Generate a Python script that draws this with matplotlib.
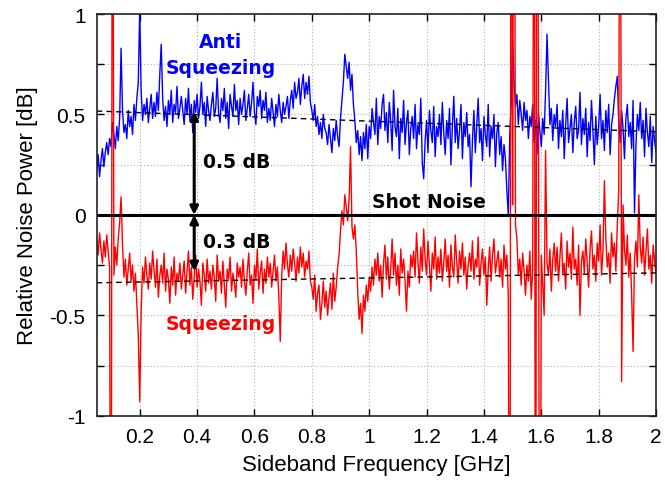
import matplotlib
matplotlib.use("Agg")
import matplotlib.pyplot as plt
import numpy as np


# measured noise power relative to shot noise [dB], sampled every 5 MHz from 0.05 to 2.0 GHz
anti = [
    # 0.05
    0.22, 0.30, 0.19, 0.27, 0.33, 0.24, 0.31, 0.36, 0.30, 0.38,
    0.34, 0.46, 0.40, 0.33, 0.44, 0.37, 0.48, 0.83, 0.52, 0.41,
    # 0.15
    0.45, 0.38, 0.52, 0.44, 0.49, 0.40, 0.55, 0.47, 0.58, 0.66,
    1.02, 0.62, 0.47, 0.55, 0.50, 0.58, 0.46, 0.53, 0.60, 0.48,
    # 0.25
    0.56, 0.49, 0.61, 0.52, 0.70, 0.85, 0.58, 0.47, 0.54, 0.44,
    0.57, 0.50, 0.62, 0.46, 0.55, 0.51, 0.64, 0.48, 0.53, 0.59,
    # 0.35
    0.52, 0.45, 0.58, 0.50, 0.63, 0.47, 0.55, 0.41, 0.57, 0.51,
    0.60, 0.48, 0.54, 0.66, 0.50, 0.56, 0.44, 0.59, 0.52, 0.47,
    # 0.45
    0.55, 0.61, 0.49, 0.53, 0.68, 0.51, 0.46, 0.58, 0.52, 0.63,
    0.48, 0.56, 0.43, 0.60, 0.54, 0.49, 0.65, 0.52, 0.57, 0.45,
    # 0.55
    0.58, 0.50, 0.55, 0.62, 0.47, 0.53, 0.60, 0.49, 0.56, 0.66,
    0.51, 0.45, 0.59, 0.54, 0.62, 0.48, 0.57, 0.52, 0.61, 0.46,
    # 0.65
    0.53, 0.47, 0.58, 0.51, 0.44, 0.55, 0.49, 0.60, 0.52, 0.46,
    0.56, 0.50, 0.54, 0.59, 0.48, 0.57, 0.62, 0.53, 0.66, 0.58,
    # 0.75
    0.61, 0.68, 0.55, 0.64, 0.70, 0.58, 0.66, 0.60, 0.69, 0.56,
    0.52, 0.47, 0.55, 0.44, 0.49, 0.40, 0.46, 0.38, 0.50, 0.43,
    # 0.85
    0.41, 0.35, 0.45, 0.38, 0.31, 0.43, 0.37, 0.47, 0.39, 0.34,
    0.48, 0.57, 0.66, 0.80, 0.74, 0.68, 0.76, 0.62, 0.70, 0.55,
    # 0.95
    0.47, 0.36, 0.42, 0.30, 0.39, 0.27, 0.41, 0.33, 0.45, 0.28,
    0.44, 0.38, 0.53, 0.46, 0.40, 0.58, 0.35, 0.49, 0.43, 0.55,
    # 1.05
    0.60, 0.42, 0.51, 0.36, 0.56, 0.47, 0.32, 0.62, 0.44, 0.39,
    0.53, 0.28, 0.48, 0.41, 0.57, 0.35, 0.46, 0.52, 0.30, 0.43,
    # 1.15
    0.49, 0.38, 0.55, 0.33, 0.45, 0.40, 0.58, 0.26, 0.18, 0.37,
    0.47, 0.31, 0.52, 0.42, 0.36, 0.54, 0.29, 0.44, 0.39, 0.50,
    # 1.25
    0.35, 0.56, 0.41, 0.30, 0.47, 0.38, 0.53, 0.25, 0.44, 0.59,
    0.36, 0.48, 0.33, 0.42, 0.55, 0.28, 0.46, 0.39, 0.51, 0.34,
    # 1.35
    0.40, 0.14, 0.37, 0.52, 0.31, 0.45, 0.58, 0.36, 0.43, 0.27,
    0.49, 0.40, 0.34, 0.55, 0.29, 0.44, 0.38, 0.50, 0.24, 0.41,
    # 1.45
    0.46, 0.30, 0.39, 0.22, 0.35, 0.28, 0.12, 0.00, 0.40, 0.55,
    0.88, 0.66, 0.54, 0.60, 0.45, 0.57, 0.50, 0.42, 0.56, 0.47,
    # 1.55
    0.52, 0.38, 0.49, 0.44, 0.55, 0.36, 0.47, 0.30, 0.51, 0.42,
    0.34, 0.48, 0.40, 0.62, 0.90, 0.68, 0.45, 0.53, 0.37, 0.50,
    # 1.65
    0.44, 0.55, 0.33, 0.47, 0.39, 0.52, 0.28, 0.45, 0.58, 0.36,
    0.43, 0.50, 0.31, 0.46, 0.54, 0.38, 0.42, 0.61, 0.35, 0.48,
    # 1.75
    0.40, 0.53, 0.29, 0.46, 0.37, 0.57, 0.42, 0.25, 0.49, 0.35,
    0.44, 0.60, 0.38, 0.47, 0.32, 0.52, 0.41, 0.55, 0.30, 0.45,
    # 1.85
    0.50, 0.58, 0.64, 0.69, 0.47, 0.36, 0.52, 0.43, 0.28, 0.48,
    0.55, 0.39, 0.46, 0.33, 0.57, 0.01, 0.35, 0.50, 0.42, 0.56,
    # 1.95
    0.38, 0.47, 0.29, 0.53, 0.41, 0.34, 0.49, 0.26, 0.44, 0.37, 0.31,
]

squeez = [
    # 0.05
    -0.12, -0.20, -0.09, -0.17, -0.24, -0.13, -0.21, -0.10, -0.18, -0.26,
    -3.00, 3.00, -0.30, -0.16, -0.25, -0.12, -0.04, 0.09, -0.15, -0.31,
    # 0.15
    -0.22, -0.35, -0.27, -0.19, -0.33, -0.25, -0.38, -0.29, -0.45, -0.60,
    -0.93, -0.48, -0.26, -0.34, -0.21, -0.30, -0.37, -0.24, -0.32, -0.18,
    # 0.25
    -0.28, -0.36, -0.22, -0.41, -0.30, -0.25, -0.34, -0.19, -0.38, -0.27,
    -0.32, -0.44, -0.26, -0.35, -0.21, -0.40, -0.29, -0.33, -0.24, -0.37,
    # 0.35
    -0.30, -0.23, -0.39, -0.28, -0.18, -0.35, -0.26, -0.42, -0.31, -0.20,
    -0.36, -0.27, -0.33, -0.45, -0.24, -0.30, -0.38, -0.22, -0.34, -0.28,
    # 0.45
    -0.37, -0.25, -0.31, -0.43, -0.20, -0.33, -0.28, -0.39, -0.23, -0.35,
    -0.46, -0.27, -0.32, -0.21, -0.38, -0.29, -0.34, -0.41, -0.24, -0.31,
    # 0.55
    -0.26, -0.36, -0.22, -0.33, -0.40, -0.28, -0.19, -0.35, -0.30, -0.44,
    -0.25, -0.32, -0.17, -0.37, -0.29, -0.23, -0.39, -0.27, -0.34, -0.21,
    # 0.65
    -0.31, -0.24, -0.36, -0.28, -0.20, -0.33, -0.26, -0.41, -0.63, -0.30,
    -0.18, -0.27, -0.14, -0.25, -0.31, -0.20, -0.28, -0.17, -0.24, -0.33,
    # 0.75
    -0.21, -0.29, -0.16, -0.26, -0.19, -0.31, -0.23, -0.27, -0.18, -0.33,
    -0.36, -0.42, -0.30, -0.48, -0.39, -0.35, -0.52, -0.44, -0.33, -0.46,
    # 0.85
    -0.38, -0.50, -0.41, -0.34, -0.47, -0.29, -0.43, -0.36, -0.26, -0.20,
    -0.08, 0.02, -0.05, 0.10, 0.04, -0.03, 0.08, 0.34, -0.06, -0.12,
    # 0.95
    -0.05, -0.18, -0.38, -0.52, -0.44, -0.59, -0.40, -0.48, -0.35, -0.43,
    -0.31, -0.38, -0.26, -0.35, -0.22, -0.30, -0.19, -0.33, -0.25, -0.41,
    # 1.05
    -0.24, -0.15, -0.32, -0.21, -0.37, -0.27, -0.12, -0.30, -0.19, -0.35,
    -0.25, -0.40, -0.17, -0.29, -0.22, -0.33, -0.48, -0.28, -0.36, -0.20,
    # 1.15
    -0.26, -0.18, -0.31, -0.09, -0.23, -0.34, -0.16, -0.28, -0.07, -0.22,
    -0.30, -0.13, -0.25, -0.38, -0.19, -0.27, -0.11, -0.32, -0.21, -0.29,
    # 1.25
    -0.17, -0.33, -0.24, -0.12, -0.28, -0.20, -0.36, -0.15, -0.26, -0.31,
    -0.10, -0.23, -0.34, -0.18, -0.27, -0.14, -0.30, -0.21, -0.37, -0.25,
    # 1.35
    -0.19, -0.28, -0.13, -0.32, -0.22, -0.26, -0.11, -0.35, -0.24, -0.17,
    -0.30, -0.21, -0.45, -0.27, -0.16, -0.33, -0.20, -0.12, -0.29, -0.23,
    # 1.45
    -0.18, -0.31, -0.22, -0.36, -0.15, -0.27, -0.20, -0.40, -3.00, 3.00,
    0.05, 3.00, -0.05, -0.12, -0.30, -0.22, -0.35, -0.19, -0.28, -0.40,
    # 1.55
    -0.25, -0.33, -0.18, -0.42, -0.27, 3.00, -3.00, 3.00, 0.58, -3.00,
    -0.20, -0.35, -0.50, 0.32, -0.24, -0.30, -0.17, -0.38, -0.22, -0.14,
    # 1.65
    -0.28, -0.16, -0.33, -0.21, -0.09, -0.30, -0.24, -0.37, -0.13, -0.26,
    -0.19, -0.32, -0.06, -0.27, -0.22, -0.35, -0.15, -0.50, -0.23, -0.18,
    # 1.75
    -0.29, -0.12, -0.24, -0.36, -0.17, -0.08, -0.27, -0.20, -0.33, -0.14,
    -0.23, -0.05, -0.30, -0.18, 0.17, -0.11, -0.26, -0.19, -0.34, -0.09,
    # 1.85
    -0.21, -0.14, -0.28, -0.05, 0.12, 3.00, -0.83, 0.05, -0.17, -0.25,
    -0.10, -0.31, -0.19, -0.40, -0.68, -0.22, -0.13, -0.26, 0.10, -0.16,
    # 1.95
    -0.24, -0.11, -0.30, -0.18, -0.07, -0.27, -0.20, -0.34, -0.15, -0.23, -0.29,
]

# linear fits (end points)
fit_x = [0.05, 2.0]
anti_fit = [0.517, 0.414]
squeez_fit = [-0.338, -0.289]

arrow_x = 0.39
anti_level = 0.515
squeez_level = -0.28

freq = np.linspace(0.05, 2.0, len(anti))

plt.rcParams['font.family'] = ['Liberation Sans', 'DejaVu Sans']

fig = plt.figure(figsize=(6.65, 4.85), dpi=100)
ax = fig.add_axes([0.1454, 0.1408, 0.8411, 0.8282])

ax.plot(freq, anti, color='#0000ff', lw=1.0)
ax.plot(freq, squeez, color='#ff0000', lw=1.0)

ax.plot(fit_x, anti_fit, color='black', lw=1.0, ls=(0, (4, 3)))
ax.plot(fit_x, squeez_fit, color='black', lw=1.0, ls=(0, (4, 3)))
ax.axhline(0, color='black', lw=2.2)

ax.annotate('', xy=(arrow_x, anti_level), xytext=(arrow_x, 0),
            arrowprops=dict(arrowstyle='<|-|>', color='black', lw=2.2,
                            mutation_scale=12, shrinkA=0, shrinkB=0))
ax.annotate('', xy=(arrow_x, squeez_level), xytext=(arrow_x, 0),
            arrowprops=dict(arrowstyle='<|-|>', color='black', lw=2.2,
                            mutation_scale=12, shrinkA=0, shrinkB=0))

bold = dict(family='DejaVu Sans', fontweight='bold', fontsize=13.5)
ax.text(0.42, 0.265, '0.5 dB', color='black', ha='left', va='center', **bold)
ax.text(0.42, -0.135, '0.3 dB', color='black', ha='left', va='center', **bold)
ax.text(1.01, 0.065, 'Shot Noise', color='black', ha='left', va='center', **bold)
ax.text(0.483, 0.861, 'Anti', color='#0000ff', ha='center', va='center', **bold)
ax.text(0.483, 0.736, 'Squeezing', color='#0000ff', ha='center', va='center', **bold)
ax.text(0.483, -0.542, 'Squeezing', color='#ff0000', ha='center', va='center', **bold)

ax.set_xlim(0.05, 2.0)
ax.set_ylim(-1, 1)
ax.set_xticks(np.arange(0.2, 2.01, 0.2))
ax.set_xticklabels(['0.2', '0.4', '0.6', '0.8', '1', '1.2', '1.4', '1.6', '1.8', '2'])
yt = np.arange(-1, 1.01, 0.25)
ax.set_yticks(yt)
ax.set_yticklabels(['-1', '', '-0.5', '', '0', '', '0.5', '', '1'])
ax.grid(True, color='#b0b0b0', ls=(0, (1, 2)), lw=0.8)
ax.tick_params(direction='in', top=True, right=True, length=5, width=1,
               labelsize=15, pad=8)
for s in ax.spines.values():
    s.set_linewidth(1.2)
    s.set_color('#222222')

ax.set_xlabel('Sideband Frequency [GHz]', fontsize=16, labelpad=6)
ax.set_ylabel('Relative Noise Power [dB]', fontsize=16, labelpad=8)

fig.savefig('out.png', dpi=100)
